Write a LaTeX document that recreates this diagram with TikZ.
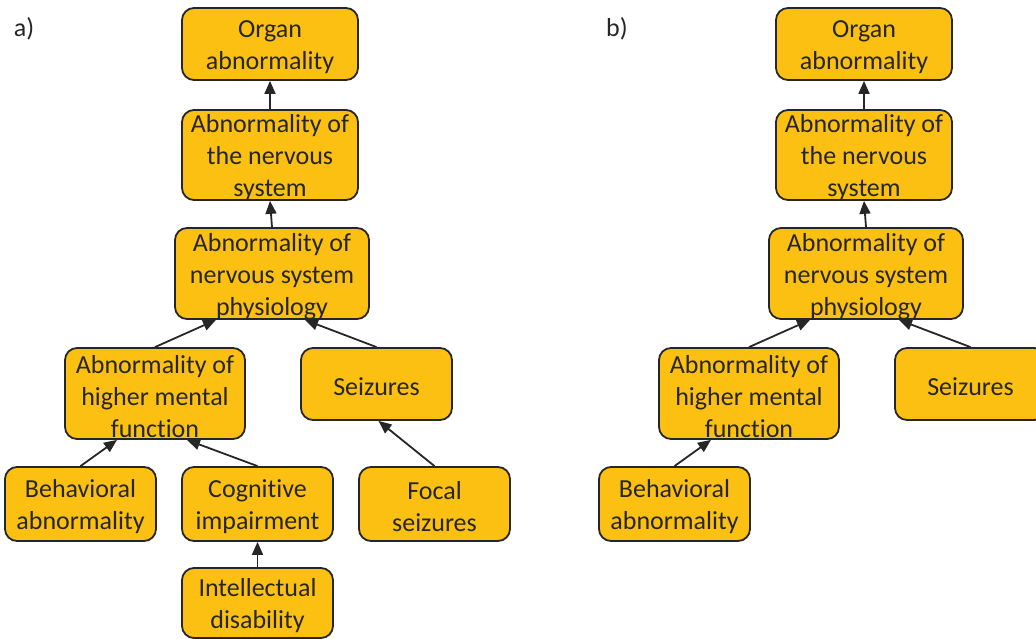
\documentclass[tikz,border=0pt]{standalone}
\usepackage{fontspec}
\setmainfont{Carlito}[Ligatures=NoCommon]
\usetikzlibrary{arrows.meta}
\definecolor{boxfill}{RGB}{252,192,18}
\definecolor{boxline}{RGB}{38,38,38}
\definecolor{txt}{RGB}{38,38,38}
\tikzset{
  box/.style={draw=boxline, fill=boxfill, line width=1.8pt, rounded corners=12pt,
    inner sep=0pt},
  boxtext/.style={align=center, inner sep=0pt, text=txt, yshift=-3pt,
    font=\fontsize{26pt}{32pt}\selectfont},
  arr/.style={draw=boxline, line width=1.8pt, -{Triangle[length=13pt,width=11pt]}},
  lbl/.style={text=txt, font=\fontsize{26pt}{30pt}\selectfont, inner sep=0pt}
}
\begin{document}
\begin{tikzpicture}[x=1pt,y=-1pt]
\useasboundingbox (0,0) rectangle (1036,639);
\clip (0,0) rectangle (1036,639);
\node[lbl] (la) at (24,29) {a)};
\node[lbl] (lb) at (617,29) {b)};
% panel a
\node[box, minimum width=176pt, minimum height=72pt, label={[boxtext]center:{Organ\\abnormality}}] (aorg) at (270,44) {};
\node[box, minimum width=176pt, minimum height=90pt, label={[boxtext]center:{Abnormality of\\the nervous\\system}}] (anerv) at (270,155) {};
\node[box, minimum width=194pt, minimum height=91pt, label={[boxtext]center:{Abnormality of\\nervous system\\physiology}}] (aphys) at (272,273.5) {};
\node[box, minimum width=180pt, minimum height=91pt, label={[boxtext]center:{Abnormality of\\higher mental\\function}}] (ahm) at (155,393.5) {};
\node[box, minimum width=151pt, minimum height=72pt, label={[boxtext]center:{Seizures}}] (aseiz) at (376.5,384) {};
\node[box, minimum width=151pt, minimum height=74pt, label={[boxtext]center:{Behavioral\\abnormality}}] (abeh) at (80.5,504) {};
\node[box, minimum width=151pt, minimum height=74pt, label={[boxtext]center:{Cognitive\\impairment}}] (acog) at (257.5,504) {};
\node[box, minimum width=151pt, minimum height=74pt, label={[boxtext]center:{Focal\\seizures}}] (afoc) at (434.5,504) {};
\node[box, minimum width=151pt, minimum height=70pt, label={[boxtext]center:{Intellectual\\disability}}] (aint) at (257.5,603) {};
\draw[arr] (anerv.north) -- (aorg.south);
\draw[arr] (aphys.north) -- (anerv.south);
\draw[arr] (ahm.north) -- ([xshift=-56pt]aphys.south);
\draw[arr] (aseiz.north) -- ([xshift=33pt]aphys.south);
\draw[arr] (abeh.north) -- ([xshift=-38pt]ahm.south);
\draw[arr] (acog.north) -- ([xshift=32pt]ahm.south);
\draw[arr] (afoc.north) -- ([xshift=2pt]aseiz.south);
\draw[arr] (aint.north) -- (acog.south);
% panel b
\node[box, minimum width=176pt, minimum height=72pt, label={[boxtext]center:{Organ\\abnormality}}] (borg) at (864,44) {};
\node[box, minimum width=176pt, minimum height=90pt, label={[boxtext]center:{Abnormality of\\the nervous\\system}}] (bnerv) at (864,155) {};
\node[box, minimum width=194pt, minimum height=91pt, label={[boxtext]center:{Abnormality of\\nervous system\\physiology}}] (bphys) at (866,273.5) {};
\node[box, minimum width=180pt, minimum height=91pt, label={[boxtext]center:{Abnormality of\\higher mental\\function}}] (bhm) at (749,393.5) {};
\node[box, minimum width=151pt, minimum height=72pt, label={[boxtext]center:{Seizures}}] (bseiz) at (970.5,384) {};
\node[box, minimum width=151pt, minimum height=74pt, label={[boxtext]center:{Behavioral\\abnormality}}] (bbeh) at (674.5,504) {};
\draw[arr] (bnerv.north) -- (borg.south);
\draw[arr] (bphys.north) -- (bnerv.south);
\draw[arr] (bhm.north) -- ([xshift=-56pt]bphys.south);
\draw[arr] (bseiz.north) -- ([xshift=33pt]bphys.south);
\draw[arr] (bbeh.north) -- ([xshift=-38pt]bhm.south);
\end{tikzpicture}
\end{document}
